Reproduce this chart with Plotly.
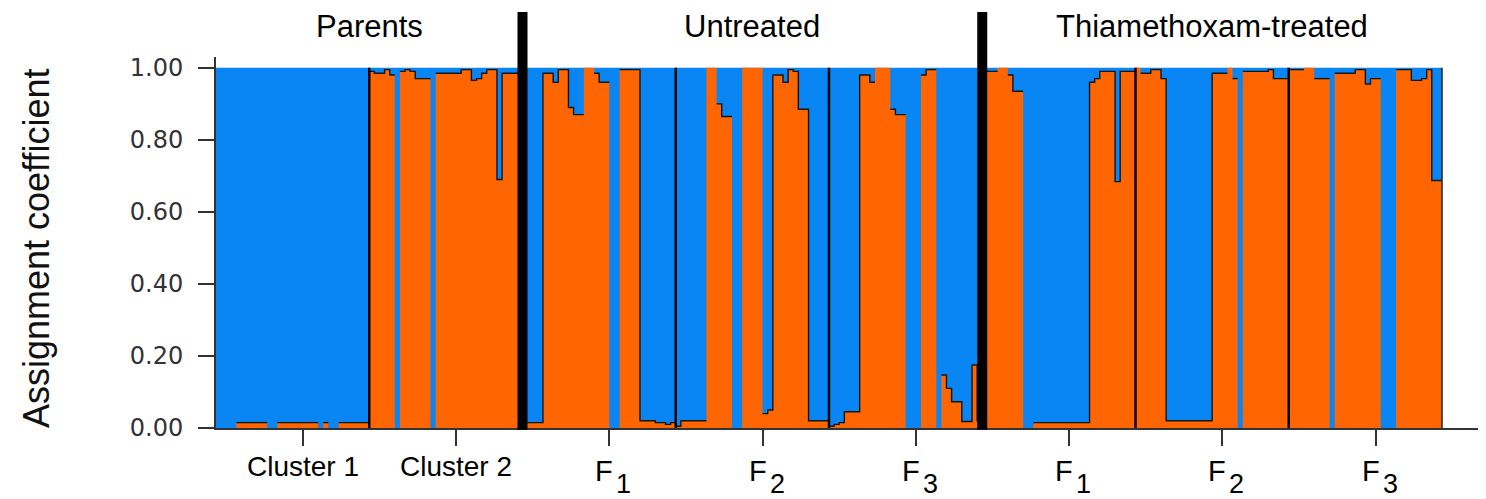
import plotly.graph_objects as go

# ---------------- data: orange-cluster assignment coefficient per individual ----------------
group_labels = ["Cluster 1", "Cluster 2", "F1", "F2", "F3", "F1", "F2", "F3"]
section_labels = ["Parents", "Untreated", "Thiamethoxam-treated"]
section_sizes = [2, 3, 3]          # number of groups in each section

parents_cluster1 = [0, 0, 0, 0, .015, .015, .015, .015, .015, .015, 0, 0,
                    .015, .015, .015, .015, .015, .015, .015, .015, 0, .015, 0, 0,
                    .015, .015, .015, .015, .015, .015]
parents_cluster2 = [.99, .985, .985, .995, .98, 0, .99, .995, .99, .97, .97, .97,
                    0, .985, .985, .985, .985, .985, .995, .995, .965, .97, .985, .995,
                    .995, .69, .985, .985, .985, .985]
untreated_f1 = [.015, .015, .015, .015, .985, .985, .96, .995, .995, .89, .87, .87,
                1.0, 1.0, .985, .96, .96, 0, 0, .995, .995, .995, .995, .02,
                .02, .02, .015, .015, .01, .015]
untreated_f2 = [.005, .02, .02, .02, .02, .02, 1.0, 1.0, .9, .865, .865, 0,
                0, 1.0, 1.0, 1.0, 1.0, .04, .05, .98, .98, .96, .995, .99,
                .885, .885, .02, .02, .02, .02]
untreated_f3 = [.005, .01, .015, .045, .045, .045, .98, .98, .96, 1.0, 1.0, 1.0,
                .885, .87, .87, 0, 0, 0, .98, .995, .995, 0, .147, .11,
                .073, .073, .018, .018, .175, .02]
treated_f1 = [.99, .99, .99, 1.0, 1.0, .98, .935, .935, 0, 0, .015, .015,
              .015, .015, .015, .015, .015, .015, .015, .015, .015, .96, .97, .99,
              .99, .99, .684, .99, .99, .99]
treated_f2 = [1.0, .985, .985, .995, .995, .97, .02, .02, .02, .02, .02, .02,
              .02, .02, .02, .985, .985, .985, 1.0, .97, 0, .99, .99, .99,
              .99, .99, .995, .97, .97, .97]
treated_f3 = [.995, .995, .995, 1.0, 1.0, .97, .97, .97, 0, .985, .985, .985,
              .985, .995, .995, .955, .97, .97, 0, 0, 0, .995, .995, .995,
              .965, .965, .97, .995, .687, .687]

groups = [parents_cluster1, parents_cluster2, untreated_f1, untreated_f2,
          untreated_f3, treated_f1, treated_f2, treated_f3]

BLUE = "#0A85F4"
ORANGE = "#FF6500"
AXIS = "#333333"
FONT = "Liberation Sans, Arial, sans-serif"

# ---------------- derived ----------------
orange = [v for g in groups for v in g]
n = len(orange)
edges = list(range(n + 1))
bounds = [0]
for g in groups:
    bounds.append(bounds[-1] + len(g))
centers = [(bounds[i] + bounds[i + 1]) / 2 for i in range(len(groups))]
tick_pos = [c + 2 for c in centers]

sec_bounds = [0]
k = 0
for s in section_sizes:
    k += s
    sec_bounds.append(bounds[k])
sec_centers = [(sec_bounds[i] + sec_bounds[i + 1]) / 2 for i in range(len(section_labels))]

fig = go.Figure()
# blue (cluster 1) fills full height, orange (cluster 2) drawn from bottom
fig.add_trace(go.Scatter(x=edges, y=[1.0] * (n + 1), mode="lines",
                         line=dict(width=0, shape="hv"), fill="tozeroy",
                         fillcolor=BLUE, hoverinfo="skip", showlegend=False))
fig.add_trace(go.Scatter(x=edges, y=orange + [orange[-1]], mode="lines",
                         line=dict(width=0, shape="hv"), fill="tozeroy",
                         fillcolor=ORANGE, hoverinfo="skip", showlegend=False))

# black outline on the boundary between the two clusters where mixed
ox, oy = [], []
i = 0
while i < n:
    if 0 < orange[i] < 1:
        j = i
        while j + 1 < n and 0 < orange[j + 1] < 1:
            j += 1
        for q in range(i, j + 1):
            ox.append(q)
            oy.append(orange[q])
        ox.append(j + 1)
        oy.append(orange[j])
        ox.append(None)
        oy.append(None)
        i = j + 1
    else:
        i += 1
fig.add_trace(go.Scatter(x=ox, y=oy, mode="lines",
                         line=dict(color="#151515", width=1.4, shape="hv"),
                         hoverinfo="skip", showlegend=False, connectgaps=False))

shapes = []
for b in bounds[1:-1]:
    if b in sec_bounds:
        shapes.append(dict(type="line", xref="x", yref="paper", x0=b, x1=b,
                           y0=-0.005, y1=1.121, line=dict(color="black", width=10)))
    else:
        shapes.append(dict(type="line", xref="x", yref="y", x0=b, x1=b,
                           y0=0, y1=1, line=dict(color="black", width=2.5)))
shapes.append(dict(type="line", xref="x", yref="y", x0=n, x1=n, y0=0, y1=1,
                   line=dict(color="#222222", width=1.5)))

annotations = []
for c, t in zip(sec_centers, section_labels):
    annotations.append(dict(x=c, y=1.081, xref="x", yref="paper", text=t,
                            showarrow=False, xanchor="center", yanchor="middle",
                            font=dict(family=FONT, size=31, color="black")))
for tp, lab in zip(tick_pos, group_labels):
    if lab.startswith("F"):
        annotations.append(dict(x=tp, y=-0.1146, xref="x", yref="paper", text="F",
                                showarrow=False, xanchor="right", yanchor="middle",
                                xshift=6, font=dict(family=FONT, size=29, color="black")))
        annotations.append(dict(x=tp, y=-0.151, xref="x", yref="paper", text=lab[1:],
                                showarrow=False, xanchor="left", yanchor="middle",
                                xshift=5, font=dict(family=FONT, size=27, color="black")))
    else:
        annotations.append(dict(x=tp, y=-0.1038, xref="x", yref="paper", text=lab,
                                showarrow=False, xanchor="center", yanchor="middle",
                                font=dict(family=FONT, size=28, color="black")))
annotations.append(dict(x=-0.142, y=0.485, xref="paper", yref="paper",
                        text="Assignment coefficient", textangle=-90, showarrow=False,
                        xanchor="center", yanchor="middle",
                        font=dict(family=FONT, size=36, color="#111111")))

# page body has an 8px default margin: figure is 8px smaller and offsets shifted
fig.update_layout(
    width=1478, height=491,
    margin=dict(l=208, r=2, t=49, b=71),
    paper_bgcolor="white", plot_bgcolor="white",
    shapes=shapes, annotations=annotations, showlegend=False,
    xaxis=dict(range=[0, n * 1268 / 1226], showgrid=False, zeroline=False,
               showline=True, linecolor=AXIS, linewidth=2,
               tickmode="array", tickvals=tick_pos, ticks="outside", ticklen=16,
               tickwidth=2, tickcolor=AXIS, showticklabels=False),
    yaxis=dict(range=[0, 1.03], showgrid=False, zeroline=False,
               showline=True, linecolor=AXIS, linewidth=2,
               tickmode="array", tickvals=[0, 0.2, 0.4, 0.6, 0.8, 1.0],
               tickformat=".2f", ticks="outside", ticklen=16, tickwidth=2,
               tickcolor=AXIS, ticklabelstandoff=10,
               tickfont=dict(family="DejaVu Sans", size=24, color="#333333")),
)

fig.write_html("out.html")
